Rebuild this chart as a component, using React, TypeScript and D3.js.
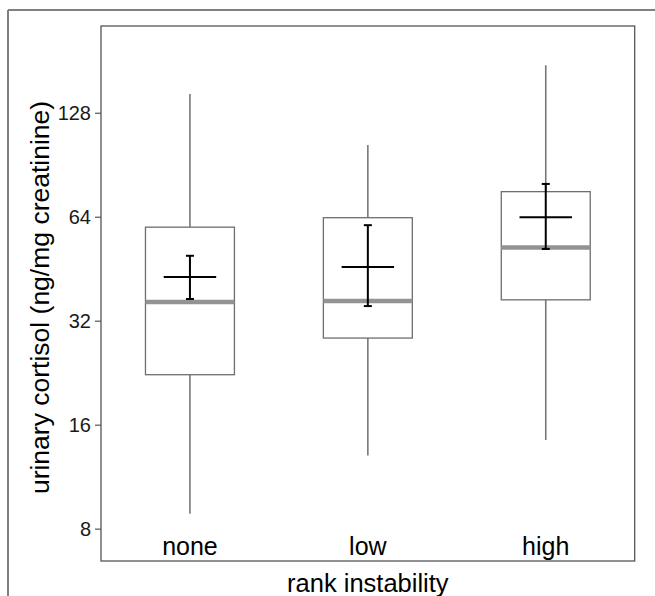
import React from 'react'
import * as d3 from 'd3'

// group summaries (ng/mg creatinine)
const categories = ['none', 'low', 'high']
const whiskerLow = [8.87, 13.07, 14.5]
const q1 = [22.4, 28.6, 36.9]
const median = [36.4, 36.6, 52.3]
const q3 = [59.9, 63.8, 75.9]
const whiskerHigh = [145.6, 103.6, 176.3]
const means = [43.0, 45.9, 64.0]
const meanLow = [37.1, 35.4, 51.8]
const meanHigh = [49.5, 60.7, 79.9]
const yTicks = [8, 16, 32, 64, 128]

const width = 655
const height = 596
const font = "'Liberation Sans', Arial, sans-serif"

export default function App() {
    const left = 101, right = 634.7, top = 26, bottom = 561

    const x = d3.scaleBand<string>()
        .domain(categories)
        .range([left, right])
        .padding(0)
    const y = d3.scaleLog()
        .base(2)
        .domain([6.47, 229])
        .range([bottom, top])

    const bw = x.bandwidth()
    const boxW = bw * 0.5
    const crossW = bw * 0.295
    const capW = 8

    return (
        <svg width={width} height={height}
            style={{ position: 'absolute', left: 0, top: 0, display: 'block', background: '#fff' }}
            fontFamily={font}>
            {/* outer frame */}
            <line x1={8} x2={width} y1={10} y2={10} stroke="#808080" strokeWidth={2} />
            <line x1={8} x2={8} y1={10} y2={height} stroke="#808080" strokeWidth={2} />

            {/* panel */}
            <rect x={left} y={top} width={right - left} height={bottom - top}
                fill="none" stroke="#555" strokeWidth={1.3} />

            {/* y axis ticks */}
            {yTicks.map(t => (
                <g key={t}>
                    <line x1={left - 6} x2={left} y1={y(t)} y2={y(t)} stroke="#555" strokeWidth={1.2} />
                    <text x={left - 10} y={y(t)} dy="0.36em" textAnchor="end" fontSize={20} fill="#1a1a1a">{t}</text>
                </g>
            ))}

            {categories.map((c, i) => {
                const cx = (x(c) as number) + bw / 2
                return (
                    <g key={c}>
                        {/* whiskers */}
                        <line x1={cx} x2={cx} y1={y(whiskerHigh[i])} y2={y(q3[i])} stroke="#777" strokeWidth={1.6} />
                        <line x1={cx} x2={cx} y1={y(q1[i])} y2={y(whiskerLow[i])} stroke="#777" strokeWidth={1.6} />
                        {/* box */}
                        <rect x={cx - boxW / 2} y={y(q3[i])} width={boxW} height={y(q1[i]) - y(q3[i])}
                            fill="#fff" stroke="#6e6e6e" strokeWidth={1.3} />
                        {/* median */}
                        <line x1={cx - boxW / 2} x2={cx + boxW / 2} y1={y(median[i])} y2={y(median[i])}
                            stroke="#939393" strokeWidth={4.5} />
                        {/* mean with error bar */}
                        <line x1={cx} x2={cx} y1={y(meanHigh[i])} y2={y(meanLow[i])} stroke="#000" strokeWidth={2} />
                        <line x1={cx - capW / 2} x2={cx + capW / 2} y1={y(meanHigh[i])} y2={y(meanHigh[i])} stroke="#000" strokeWidth={2} />
                        <line x1={cx - capW / 2} x2={cx + capW / 2} y1={y(meanLow[i])} y2={y(meanLow[i])} stroke="#000" strokeWidth={2} />
                        <line x1={cx - crossW / 2} x2={cx + crossW / 2} y1={y(means[i])} y2={y(means[i])} stroke="#000" strokeWidth={2} />
                        {/* category label */}
                        <text x={cx} y={555} textAnchor="middle" fontSize={25} fill="#000">{c}</text>
                    </g>
                )
            })}

            {/* axis titles */}
            <text x={(left + right) / 2} y={592} textAnchor="middle" fontSize={25.5} fill="#000">rank instability</text>
            <text transform={`translate(49,${(top + bottom) / 2 + 4}) rotate(-90)`} textAnchor="middle"
                fontSize={26.5} fill="#000">urinary cortisol (ng/mg creatinine)</text>
        </svg>
    )
}
